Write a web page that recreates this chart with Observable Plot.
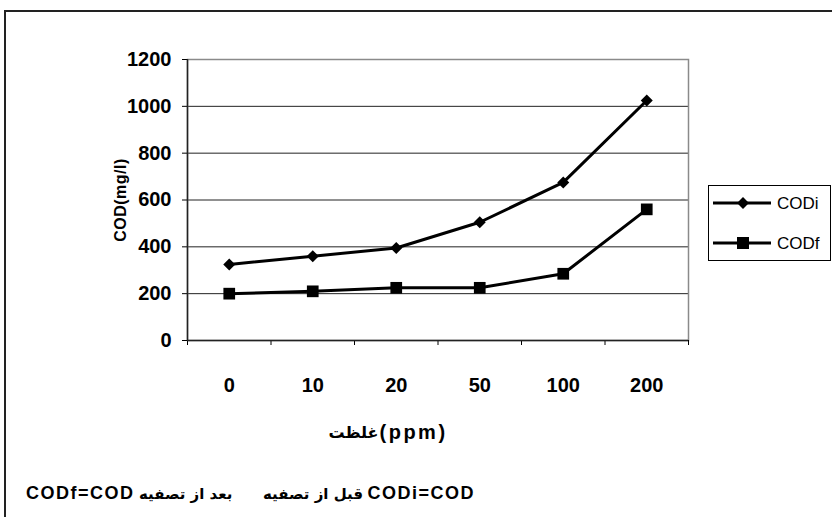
<!DOCTYPE html>
<html><head><meta charset="utf-8">
<script src="https://cdn.jsdelivr.net/npm/d3@7"></script>
<script src="https://cdn.jsdelivr.net/npm/@observablehq/plot@0.6"></script>
<style>
html,body{margin:0;padding:0;background:#fff;overflow:hidden;}
#wrap{position:relative;width:832px;height:517px;overflow:hidden;font-family:"Liberation Sans",Arial,"DejaVu Sans",sans-serif;}
#border{position:absolute;left:4px;top:10px;width:900px;height:600px;border:2px solid #222;box-sizing:border-box;}
#chart{position:absolute;left:0;top:0;}
#legend{position:absolute;left:708px;top:185px;width:123px;height:76px;border:1px solid #000;box-sizing:border-box;background:#fff;}
.foot{position:absolute;top:481px;font-weight:bold;white-space:nowrap;direction:ltr;line-height:24px;}
.lat{font-size:18px;letter-spacing:1.5px;}
.ar{font-size:15px;font-family:"DejaVu Sans",sans-serif;}
</style></head>
<body><div id="wrap"><div id="border"></div><div id="chart"></div><div id="legend"></div>
<div class="foot" style="left:26px"><span class="lat">CODf=COD</span> <span class="ar">بعد از تصفیه</span></div>
<div class="foot" style="left:263px"><span class="ar">قبل از تصفیه</span> <span class="lat">CODi=COD</span></div>
</div>
<script>
const categories = ["0","10","20","50","100","200"];
const codi = [325, 360, 395, 505, 675, 1025];
const codf = [200, 210, 225, 225, 285, 560];
const yTicks = [0,200,400,600,800,1000,1200];
const seriesNames = ["CODi","CODf"];

const rows = [];
categories.forEach((c,i)=>{
  rows.push({i:i+0.5, cat:c, v:codi[i], s:"CODi"});
  rows.push({i:i+0.5, cat:c, v:codf[i], s:"CODf"});
});
const ri = rows.filter(d=>d.s==="CODi");
const rf = rows.filter(d=>d.s==="CODf");

const font = '"Liberation Sans", Arial, "DejaVu Sans", sans-serif';
const chart = Plot.plot({
  width: 832, height: 517,
  marginLeft: 187, marginRight: 144, marginTop: 59, marginBottom: 177,
  style: {fontFamily: font, background: "transparent", color: "#000"},
  x: {type: "linear", domain: [0, categories.length]},
  y: {domain: [0, 1200]},
  marks: [
    Plot.ruleY(yTicks.filter(t=>t>0 && t<1200), {stroke: "#222", strokeWidth: 1}),
    Plot.frame({stroke: "#8a8a8a", strokeWidth: 1.5}),
    Plot.axisY({ticks: yTicks, tickSize: 5, tickPadding: 11, tickFormat: d => String(d), fontSize: 20, fontWeight: "bold", label: null, stroke:"#000"}),
    Plot.axisX({ticks: d3.range(0, categories.length+1), tickSize: 5, tickFormat: () => "", label: null, stroke:"#000"}),
    Plot.ruleX([0], {stroke: "#222", strokeWidth: 1.5}),
    Plot.ruleY([0], {stroke: "#222", strokeWidth: 1.5}),
    Plot.text(categories.map((c,i)=>({x:i+0.5, c})), {x:"x", text:"c", frameAnchor:"bottom", dy:45, fontSize:20, fontWeight:"bold", lineAnchor:"middle"}),
    Plot.line(ri, {x:"i", y:"v", stroke:"#000", strokeWidth:3}),
    Plot.line(rf, {x:"i", y:"v", stroke:"#000", strokeWidth:3}),
    Plot.dot(ri, {x:"i", y:"v", symbol:"square", rotate:45, r:4.8, fill:"#000"}),
    Plot.dot(rf, {x:"i", y:"v", symbol:"square", r:6.6, fill:"#000"}),
    Plot.text(["COD(mg/l)"], {frameAnchor:"left", dx:-67, rotate:-90, fontSize:16, fontWeight:"bold", textAnchor:"middle"}),
    Plot.text(["غلظت"], {frameAnchor:"bottom-left", dx:191, dy:92, fontSize:16, fontWeight:"bold", textAnchor:"end", lineAnchor:"middle", fontFamily:"DejaVu Sans"}),
    Plot.text(["(ppm)"], {frameAnchor:"bottom-left", dx:192, dy:92, fontSize:20, fontWeight:"bold", textAnchor:"start", lineAnchor:"middle"})
  ]
});
document.getElementById("chart").appendChild(chart);
chart.querySelectorAll("text").forEach(t => {
  if (t.textContent === "(ppm)") t.setAttribute("letter-spacing", "2.5");
  if (t.textContent === "COD(mg/l)") t.setAttribute("letter-spacing", "0.5");
});

// legend
const lg = d3.select("#legend").append("svg").attr("width",121).attr("height",74);
seriesNames.forEach((n,k)=>{
  const y = k===0 ? 17 : 57;
  lg.append("line").attr("x1",4).attr("x2",62).attr("y1",y).attr("y2",y).attr("stroke","#000").attr("stroke-width",3);
  if (k===0) lg.append("rect").attr("x",34-4.2).attr("y",y-4.2).attr("width",8.4).attr("height",8.4).attr("transform",`rotate(45 34 ${y})`).attr("fill","#000");
  else lg.append("rect").attr("x",34-6).attr("y",y-6).attr("width",12).attr("height",12).attr("fill","#000");
  lg.append("text").attr("x",68).attr("y",y).attr("dy","0.36em").attr("font-size",17).attr("font-family",font).text(n);
});
</script></body></html>
